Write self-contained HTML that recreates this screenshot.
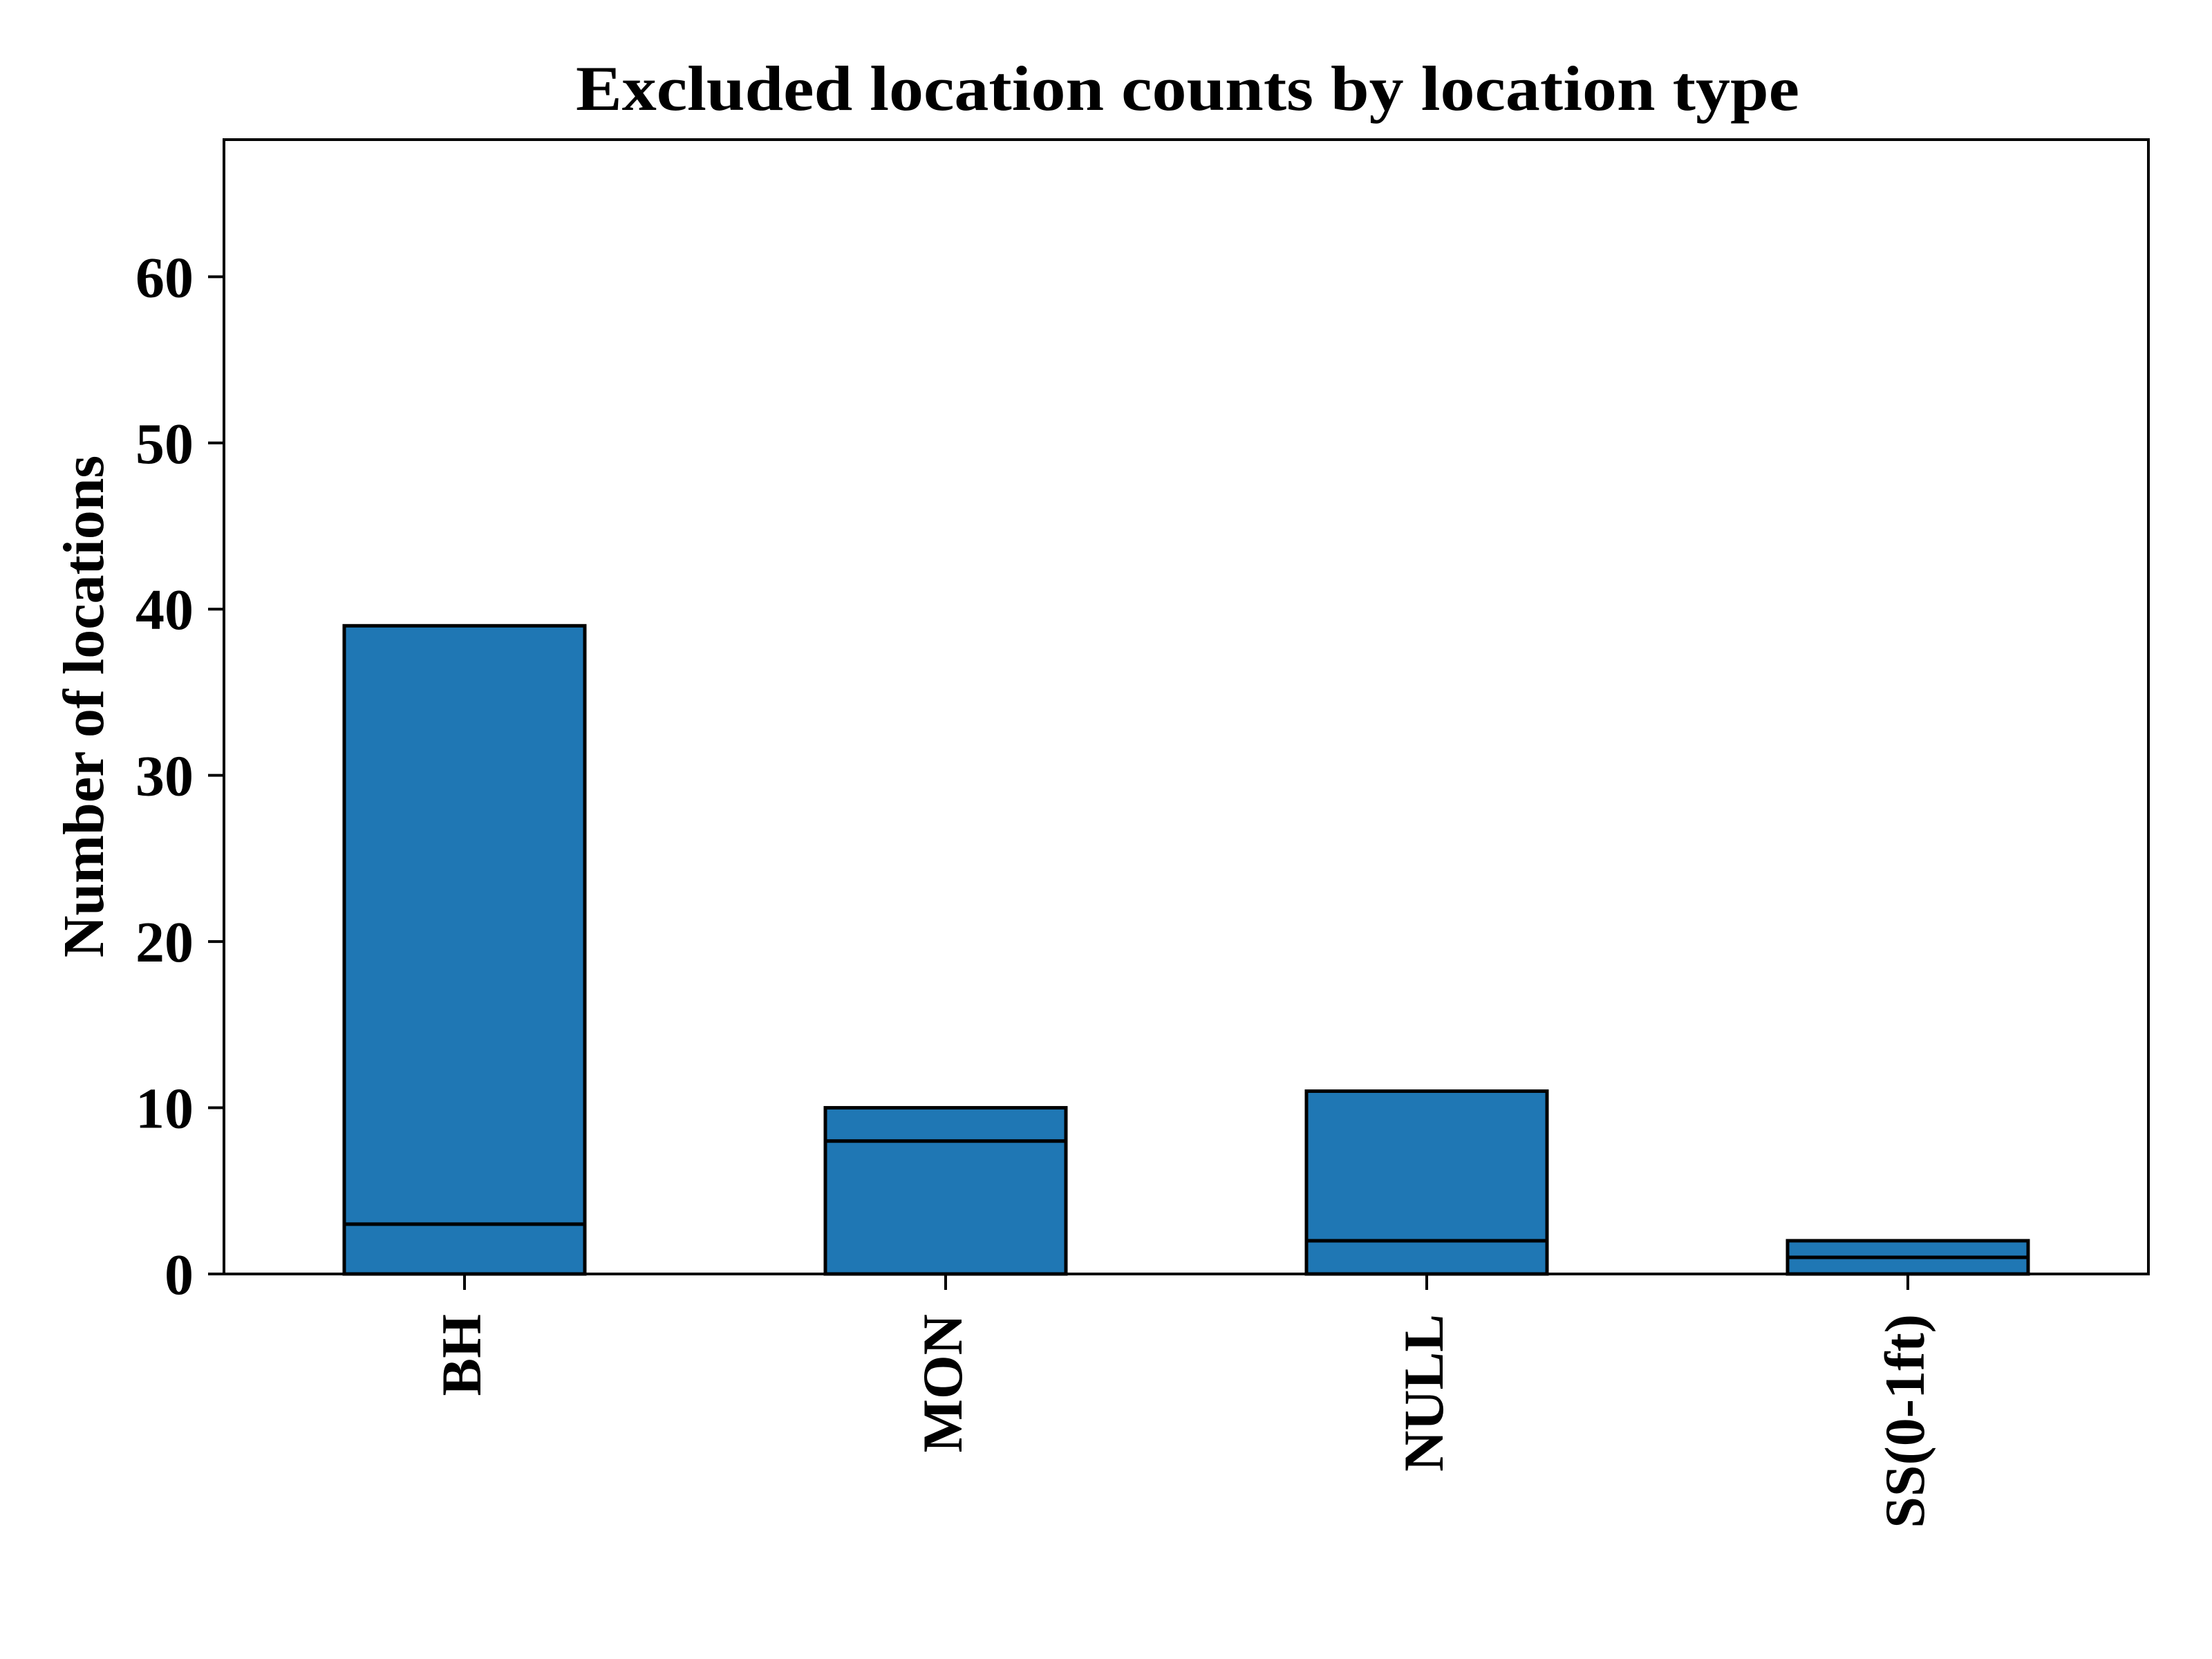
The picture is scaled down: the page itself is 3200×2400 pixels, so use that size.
<!DOCTYPE html>
<html><head><meta charset="utf-8"><style>
html,body{margin:0;padding:0;background:#fff;}
svg{display:block;font-family:"Liberation Serif","Times New Roman",serif;font-weight:bold;}
</style></head><body>
<svg id="chart" width="3200" height="2400" viewBox="0 0 3200 2400" xmlns="http://www.w3.org/2000/svg">
<rect width="3200" height="2400" fill="#fff"/>
<text x="1718" y="159" font-size="92" text-anchor="middle" textLength="1770" lengthAdjust="spacingAndGlyphs">Excluded location counts by location type</text>
<text transform="translate(149,1022) rotate(-90)" font-size="84" text-anchor="middle">Number of locations</text>
<g id="plot"></g>
</svg>
<script>
const categories = ["BH","MON","NULL","SS(0-1ft)"];
const lowerValues = [3, 8, 2, 1];
const upperValues = [36, 2, 9, 1];
const yTicks = [0, 10, 20, 30, 40, 50, 60];
const yMax = 68.25;

const L = 324, R = 3108, T = 202, B = 1843;
const NS = "http://www.w3.org/2000/svg";
const g = document.getElementById('plot');
const slot = (R - L) / categories.length;
function xc(i){ return L + slot * (i + 0.5); }
function y(v){ return B - (B - T) * v / yMax; }
const bw = slot * 0.5;
function mk(tag, attrs){ const e = document.createElementNS(NS, tag); for (const k in attrs) e.setAttribute(k, attrs[k]); g.appendChild(e); return e; }

categories.forEach((c, i) => {
  const x0 = xc(i) - bw / 2;
  const lo = mk('rect', {x: x0, y: y(lowerValues[i]), width: bw, height: y(0) - y(lowerValues[i]), fill: '#1f77b4', stroke: '#000', 'stroke-width': 5});
  
  
  const top = lowerValues[i] + upperValues[i];
  const up = mk('rect', {x: x0, y: y(top), width: bw, height: y(lowerValues[i]) - y(top), fill: '#1f77b4', stroke: '#000', 'stroke-width': 5});
  
  
  const tk = mk('line', {x1: xc(i), x2: xc(i), y1: B, y2: B + 23, stroke: '#000', 'stroke-width': 4});
  
  
  const t = mk('text', {transform: 'translate(' + (xc(i) + 23) + ',' + (B + 58) + ') rotate(-90)', 'font-size': 82, 'text-anchor': 'end'});
  t.textContent = c;
  
  
});

yTicks.forEach(v => {
  const tk = mk('line', {x1: L - 23, x2: L, y1: y(v), y2: y(v), stroke: '#000', 'stroke-width': 4});
  
  
  const t = mk('text', {x: L - 44, y: y(v) + 29, 'font-size': 84, 'text-anchor': 'end'});
  t.textContent = v;
  
  
});

const frame = mk('rect', {x: L, y: T, width: R - L, height: B - T, fill: 'none', stroke: '#000', 'stroke-width': 4});


</script>
</body></html>
